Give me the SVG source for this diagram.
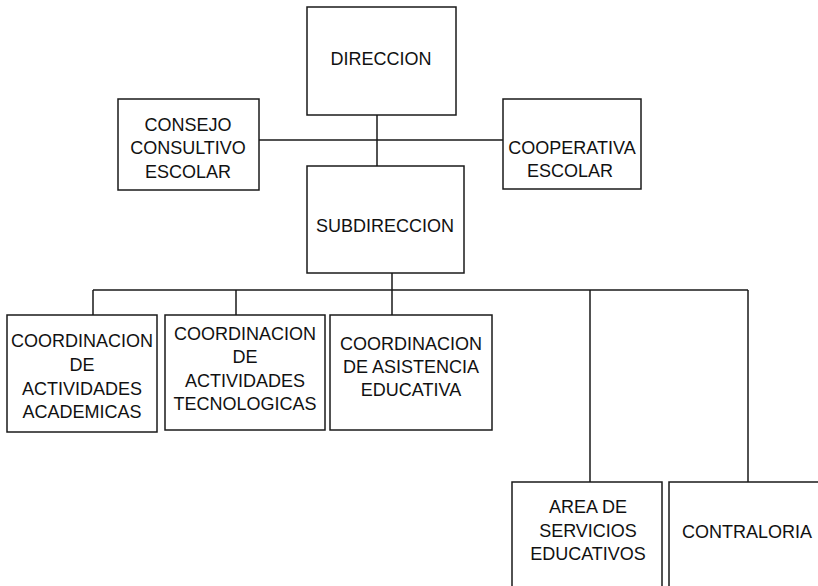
<svg xmlns="http://www.w3.org/2000/svg" width="818" height="586" viewBox="0 0 818 586">
<style>
.box{fill:#fff;stroke:#1a1a1a;stroke-width:1.5}
.ln{fill:none;stroke:#1a1a1a;stroke-width:1.5}
text{font-family:"Liberation Sans",Arial,sans-serif;font-size:18px;fill:#111;text-anchor:middle}
</style>
<rect width="818" height="586" fill="#fff"/>
<g id="connectors">
<path class="ln" d="M377 115V166M259 140H503"/>
<path class="ln" d="M392 273V315M93 290H748M93 290V315M236 290V315M590 290V482M748 290V482"/>
</g>
<g id="direccion">
<rect class="box" x="307" y="7" width="149" height="108"/>
<text x="381" y="65">DIRECCION</text>
</g>
<g id="consejo">
<rect class="box" x="118" y="99" width="141" height="91"/>
<text x="188" y="131">CONSEJO</text>
<text x="188" y="154">CONSULTIVO</text>
<text x="188" y="178">ESCOLAR</text>
</g>
<g id="cooperativa">
<rect class="box" x="503" y="99" width="138" height="90"/>
<text x="572" y="154">COOPERATIVA</text>
<text x="570" y="177">ESCOLAR</text>
</g>
<g id="subdireccion">
<rect class="box" x="307" y="166" width="157" height="107"/>
<text x="385" y="232">SUBDIRECCION</text>
</g>
<g id="coord-academicas">
<rect class="box" x="7" y="315" width="150" height="117"/>
<text x="82" y="347">COORDINACION</text>
<text x="82" y="371">DE</text>
<text x="82" y="395">ACTIVIDADES</text>
<text x="82" y="418">ACADEMICAS</text>
</g>
<g id="coord-tecnologicas">
<rect class="box" x="165" y="315" width="160" height="115"/>
<text x="245" y="340">COORDINACION</text>
<text x="245" y="363">DE</text>
<text x="245" y="387">ACTIVIDADES</text>
<text x="245" y="410">TECNOLOGICAS</text>
</g>
<g id="coord-asistencia">
<rect class="box" x="330" y="315" width="162" height="115"/>
<text x="411" y="350">COORDINACION</text>
<text x="411" y="373">DE ASISTENCIA</text>
<text x="411" y="396">EDUCATIVA</text>
</g>
<g id="area-servicios">
<rect class="box" x="512" y="482" width="150" height="120"/>
<text x="588" y="513">AREA DE</text>
<text x="588" y="537">SERVICIOS</text>
<text x="588" y="560">EDUCATIVOS</text>
</g>
<g id="contraloria">
<rect class="box" x="669" y="482" width="160" height="120"/>
<text x="747" y="538">CONTRALORIA</text>
</g>
</svg>
